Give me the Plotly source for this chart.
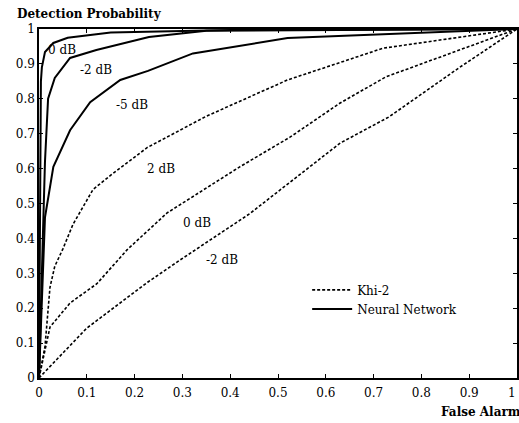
import plotly.graph_objects as go

# ---- data ----
nn_0db_x = [0, 0.002, 0.004, 0.006, 0.0125, 0.03, 0.06, 0.15, 0.4, 1.0]
nn_0db_y = [0, 0.60, 0.85, 0.89, 0.934, 0.96, 0.975, 0.99, 0.997, 1.0]

nn_m2db_x = [0, 0.005, 0.008, 0.0125, 0.019, 0.033, 0.065, 0.12, 0.23, 0.35, 1.0]
nn_m2db_y = [0, 0.30, 0.40, 0.62, 0.80, 0.86, 0.917, 0.94, 0.977, 0.995, 1.0]

nn_m5db_x = [0, 0.005, 0.0125, 0.03, 0.065, 0.107, 0.17, 0.228, 0.322, 0.52, 1.0]
nn_m5db_y = [0, 0.20, 0.46, 0.605, 0.71, 0.79, 0.854, 0.88, 0.93, 0.974, 1.0]

khi_2db_x = [0, 0.0125, 0.023, 0.033, 0.05, 0.071, 0.113, 0.149, 0.226, 0.35, 0.52, 0.63, 0.72, 1.0]
khi_2db_y = [0, 0.09, 0.26, 0.32, 0.37, 0.44, 0.54, 0.58, 0.66, 0.75, 0.854, 0.905, 0.945, 1.0]

khi_0db_x = [0, 0.023, 0.065, 0.121, 0.184, 0.268, 0.42, 0.525, 0.63, 0.726, 1.0]
khi_0db_y = [0, 0.146, 0.215, 0.27, 0.367, 0.473, 0.605, 0.69, 0.788, 0.863, 1.0]

khi_m2db_x = [0, 0.1, 0.228, 0.295, 0.44, 0.63, 0.732, 0.88, 1.0]
khi_m2db_y = [0, 0.143, 0.275, 0.338, 0.47, 0.673, 0.748, 0.89, 1.0]

label_text = ["0 dB", "-2 dB", "-5 dB", "2 dB", "0 dB", "-2 dB"]
label_x = [0.048, 0.119, 0.195, 0.255, 0.33, 0.383]
label_y = [0.94, 0.883, 0.782, 0.60, 0.444, 0.338]

x_ticks = [0, 0.1, 0.2, 0.3, 0.4, 0.5, 0.6, 0.7, 0.8, 0.9, 1]
x_tick_text = ["0", "0.1", "0.2", "0.3", "0.4", "0.5", "0.6", "0.7", "0.8", "0.9", "1"]
y_ticks = [0, 0.1, 0.2, 0.3, 0.4, 0.5, 0.6, 0.7, 0.8, 0.9, 1]
y_tick_text = ["0", "0.1", "0.2", "0.3", "0.4", "0.5", "0.6", "0.7", "0.8", "0.9", "1"]

FONT = "DejaVu Serif"

fig = go.Figure()

khi = [(khi_2db_x, khi_2db_y), (khi_0db_x, khi_0db_y), (khi_m2db_x, khi_m2db_y)]
for i, (xs, ys) in enumerate(khi):
    fig.add_trace(go.Scatter(
        x=xs, y=ys, mode="lines", name="Khi-2", legendgroup="khi",
        showlegend=(i == 0),
        line=dict(color="black", width=1.6, dash="3px,2px"),
        cliponaxis=False))

nn = [(nn_0db_x, nn_0db_y), (nn_m2db_x, nn_m2db_y), (nn_m5db_x, nn_m5db_y)]
for i, (xs, ys) in enumerate(nn):
    fig.add_trace(go.Scatter(
        x=xs, y=ys, mode="lines", name="Neural Network", legendgroup="nn",
        showlegend=(i == 0),
        line=dict(color="black", width=2),
        cliponaxis=False))

for t, lx, ly in zip(label_text, label_x, label_y):
    fig.add_annotation(x=lx, y=ly, text=t, showarrow=False,
                       font=dict(family=FONT, size=12, color="black"))

# last x tick label sits right at the canvas edge
fig.add_annotation(x=x_ticks[-1], y=0, yref="paper", yshift=-15, xshift=1,
                   text=x_tick_text[-1], showarrow=False,
                   xanchor="right", yanchor="middle",
                   font=dict(family=FONT, size=12, color="black"))

fig.add_annotation(xref="paper", yref="paper", x=-0.05, y=1.0, yshift=15,
                   xanchor="left", yanchor="middle", showarrow=False,
                   text="<b>Detection Probability</b>",
                   font=dict(family=FONT, size=12, color="black"))
fig.add_annotation(xref="paper", yref="paper", x=0.836, y=0, yshift=-34,
                   xanchor="left", yanchor="middle", showarrow=False,
                   text="<b>False Alarm</b>",
                   font=dict(family=FONT, size=12, color="black"))

fig.update_xaxes(range=[0, 1], tickvals=x_ticks, ticktext=x_tick_text,
                 showgrid=False, zeroline=False, showline=True,
                 linecolor="black", linewidth=1.5, mirror="ticks",
                 ticks="inside", ticklen=4, tickcolor="black",
                 automargin=False, ticklabelstandoff=3,
                 tickfont=dict(family=FONT, size=12, color="black"))
fig.update_yaxes(range=[0, 1], tickvals=y_ticks, ticktext=y_tick_text,
                 showgrid=False, zeroline=False, showline=True,
                 linecolor="black", linewidth=1.5, mirror="ticks",
                 ticks="inside", ticklen=4, tickcolor="black",
                 ticklabelstandoff=0, automargin=False,
                 tickfont=dict(family=FONT, size=12, color="black"))

fig.update_layout(
    width=519, height=423,
    margin=dict(l=39, r=2, t=29, b=45),
    plot_bgcolor="white", paper_bgcolor="white",
    legend=dict(x=0.561, y=0.294, xanchor="left", yanchor="top",
                bgcolor="rgba(0,0,0,0)", borderwidth=0,
                font=dict(family=FONT, size=12, color="black"),
                itemwidth=40, tracegroupgap=0),
)

fig.write_html("out.html")
